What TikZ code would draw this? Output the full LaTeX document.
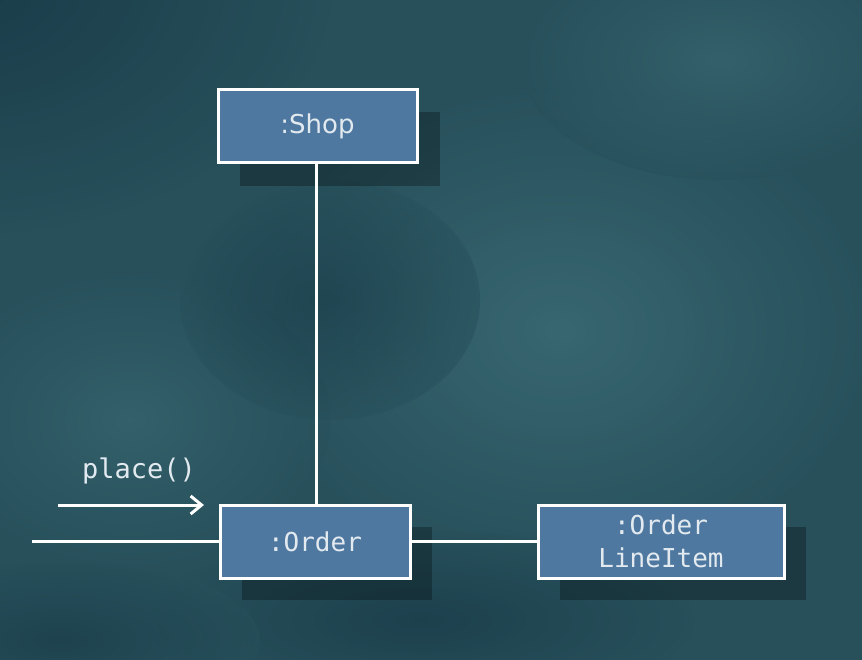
\documentclass[tikz,border=0pt]{standalone}
\usepackage{fontspec}
\setmainfont{DejaVu Sans}
\newfontfamily\monofnt{DejaVu Sans Mono}
\usetikzlibrary{arrows.meta}
\definecolor{bgbase}{HTML}{27505B}
\definecolor{bgdark}{HTML}{163744}
\definecolor{bglight}{HTML}{3F707A}
\definecolor{boxfill}{HTML}{4E78A0}
\definecolor{txtcol}{HTML}{E2EAF0}
\tikzset{
  objbox/.style={draw=white, line width=3pt, fill=boxfill, text=txtcol, font=\monofnt\fontsize{26}{33}\selectfont, inner sep=0pt, align=center},
  shadowbox/.style={fill=black, opacity=0.28},
  link/.style={draw=white, line width=3pt},
}
\begin{document}
\begin{tikzpicture}[x=1pt,y=-1pt]
\useasboundingbox (0,0) rectangle (862,660);
% background
\fill[bgbase] (0,0) rectangle (862,660);
\begin{scope}
\clip (0,0) rectangle (862,660);
\shade[inner color=bgdark, outer color=bgbase, opacity=0.8] (-40,-20) ellipse (380 and 260);
\shade[inner color=bglight, outer color=bgbase, opacity=0.7] (560,330) ellipse (320 and 250);
\shade[inner color=bglight, outer color=bgbase, opacity=0.5] (130,420) ellipse (200 and 150);
\shade[inner color=bgdark, outer color=bgbase, opacity=0.6] (420,620) ellipse (280 and 90);
\shade[inner color=bgdark, outer color=bgbase, opacity=0.5] (60,640) ellipse (200 and 80);
\shade[inner color=bglight, outer color=bgbase, opacity=0.5] (720,60) ellipse (200 and 120);
\shade[inner color=bgdark, outer color=bgbase, opacity=0.5] (330,300) ellipse (150 and 120);
\end{scope}
% shadows
\fill[shadowbox] (240,112) rectangle (440,186);
\fill[shadowbox] (242,527) rectangle (432,600);
\fill[shadowbox] (560,527) rectangle (806,600);
% boxes
\node[objbox, font=\fontsize{26}{30}\selectfont, minimum width=199pt, minimum height=73pt] (shop) at (317.5,126.5) {:Shop};
\node[objbox, minimum width=190pt, minimum height=73pt] (order) at (315,541.5) {:Order};
\node[objbox, minimum width=246pt, minimum height=73pt] (item) at (661,541.5) {:Order\\LineItem};
\coordinate (inl) at (32,541.5);
\coordinate (arrs) at (58,505);
\coordinate (arre) at (204,505);
% links
\draw[link] (order.north -| 316,0) -- (shop.south -| 316,0);
\draw[link] (inl) -- (order.west);
\draw[link] (order.east) -- (item.west);
\draw[link, -{Straight Barb[length=11pt,width=18pt,line width=3pt]}] (arrs) -- (arre);
\node[text=txtcol, font=\monofnt\fontsize{27}{30}\selectfont] (lbl) at (139,471) {place()};
\end{tikzpicture}
\end{document}
